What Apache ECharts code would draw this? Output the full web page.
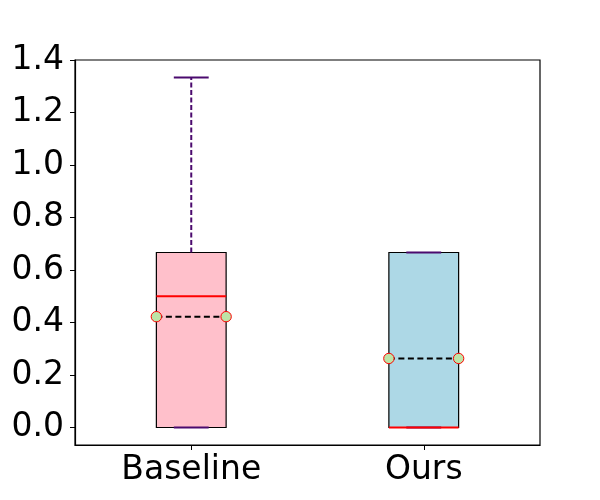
<!DOCTYPE html>
<html>
<head>
<meta charset="utf-8">
<script src="https://cdn.jsdelivr.net/npm/echarts@6/dist/echarts.min.js"></script>
<style>
html,body{margin:0;padding:0;background:#fff;}
#chart{width:600px;height:500px;}
</style>
</head>
<body>
<div id="chart"></div>
<script>
// ---- data ----
const categories = ['Baseline', 'Ours'];
const whiskerLow = [0, 0];
const q1 = [0, 0];
const medians = [0.5, 0];
const q3 = [0.6667, 0.6667];
const whiskerHigh = [1.3333, 0.6667];
const means = [0.4222, 0.2630];
const yTicks = [0, 0.2, 0.4, 0.6, 0.8, 1.0, 1.2, 1.4];

// ---- styles ----
const boxFills = ['#FFC0CB', '#ADD8E6'];
const whiskerColor = '#4B0A6E';

const rows = categories.map((c, i) => [i, whiskerLow[i], q1[i], medians[i], q3[i], whiskerHigh[i], means[i]]);

function renderItem(params, api) {
  const i = api.value(0);
  const cx = api.coord([i, 0])[0];
  const yLow = api.coord([i, api.value(1)])[1];
  const yQ1 = api.coord([i, api.value(2)])[1];
  const yMed = api.coord([i, api.value(3)])[1];
  const yQ3 = api.coord([i, api.value(4)])[1];
  const yHigh = api.coord([i, api.value(5)])[1];
  const yMean = api.coord([i, api.value(6)])[1];
  const bw = api.size([1, 0])[0] * 0.3;
  const cw = bw / 2;
  const children = [
    {type: 'rect', shape: {x: cx - bw / 2, y: yQ3, width: bw, height: yQ1 - yQ3},
     style: {fill: boxFills[i], stroke: '#000', lineWidth: 1.2}},
    {type: 'line', shape: {x1: cx, y1: yQ1, x2: cx, y2: yLow},
     style: {stroke: whiskerColor, lineWidth: 2, lineDash: [5, 2.5]}},
    {type: 'line', shape: {x1: cx, y1: yQ3, x2: cx, y2: yHigh},
     style: {stroke: whiskerColor, lineWidth: 2, lineDash: [5, 2.5]}},
    {type: 'line', shape: {x1: cx - cw / 2, y1: yHigh, x2: cx + cw / 2, y2: yHigh},
     style: {stroke: whiskerColor, lineWidth: 2}},
    {type: 'line', shape: {x1: cx - cw / 2, y1: yLow, x2: cx + cw / 2, y2: yLow},
     style: {stroke: whiskerColor, lineWidth: 2}},
    {type: 'line', shape: {x1: cx - bw / 2, y1: yMed, x2: cx + bw / 2, y2: yMed},
     style: {stroke: '#FF0000', lineWidth: 2}},
    {type: 'line', shape: {x1: cx - bw / 2, y1: yMean, x2: cx + bw / 2, y2: yMean},
     style: {stroke: '#000', lineWidth: 2, lineDash: [6, 3.5]}},
    {type: 'circle', shape: {cx: cx - bw / 2, cy: yMean, r: 5.2},
     style: {fill: '#BDE4A7', stroke: '#FF0000', lineWidth: 1}},
    {type: 'circle', shape: {cx: cx + bw / 2, cy: yMean, r: 5.2},
     style: {fill: '#BDE4A7', stroke: '#FF0000', lineWidth: 1}}
  ];
  return {type: 'group', children: children};
}

const font = 'DejaVu Sans';
const chart = echarts.init(document.getElementById('chart'), null, {renderer: 'canvas'});
chart.setOption({
  animation: false,
  backgroundColor: '#fff',
  grid: {left: 75, right: 60, top: 60, bottom: 55, show: true, borderColor: '#000', borderWidth: 1.2, backgroundColor: 'transparent'},
  xAxis: {
    type: 'category',
    data: categories,
    boundaryGap: true,
    axisLine: {show: true, onZero: false, lineStyle: {color: '#000', width: 1.2}},
    axisTick: {show: true, alignWithLabel: true, length: 5, lineStyle: {color: '#000', width: 1}},
    axisLabel: {color: '#000', fontFamily: font, fontSize: 33, margin: 9},
    splitLine: {show: false}
  },
  yAxis: {
    type: 'value',
    min: -0.0667,
    max: 1.4,
    axisLine: {show: true, onZero: false, lineStyle: {color: '#000', width: 1.2}},
    axisTick: {show: true, length: 5, lineStyle: {color: '#000', width: 1}, customValues: yTicks},
    axisLabel: {color: '#000', fontFamily: font, fontSize: 33, margin: 11,
      customValues: yTicks, formatter: v => Number(v).toFixed(1)},
    splitLine: {show: false}
  },
  series: [{
    type: 'custom',
    renderItem: renderItem,
    encode: {x: 0, y: [1, 2, 3, 4, 5, 6]},
    data: rows,
    clip: false
  }]
});
</script>
</body>
</html>
